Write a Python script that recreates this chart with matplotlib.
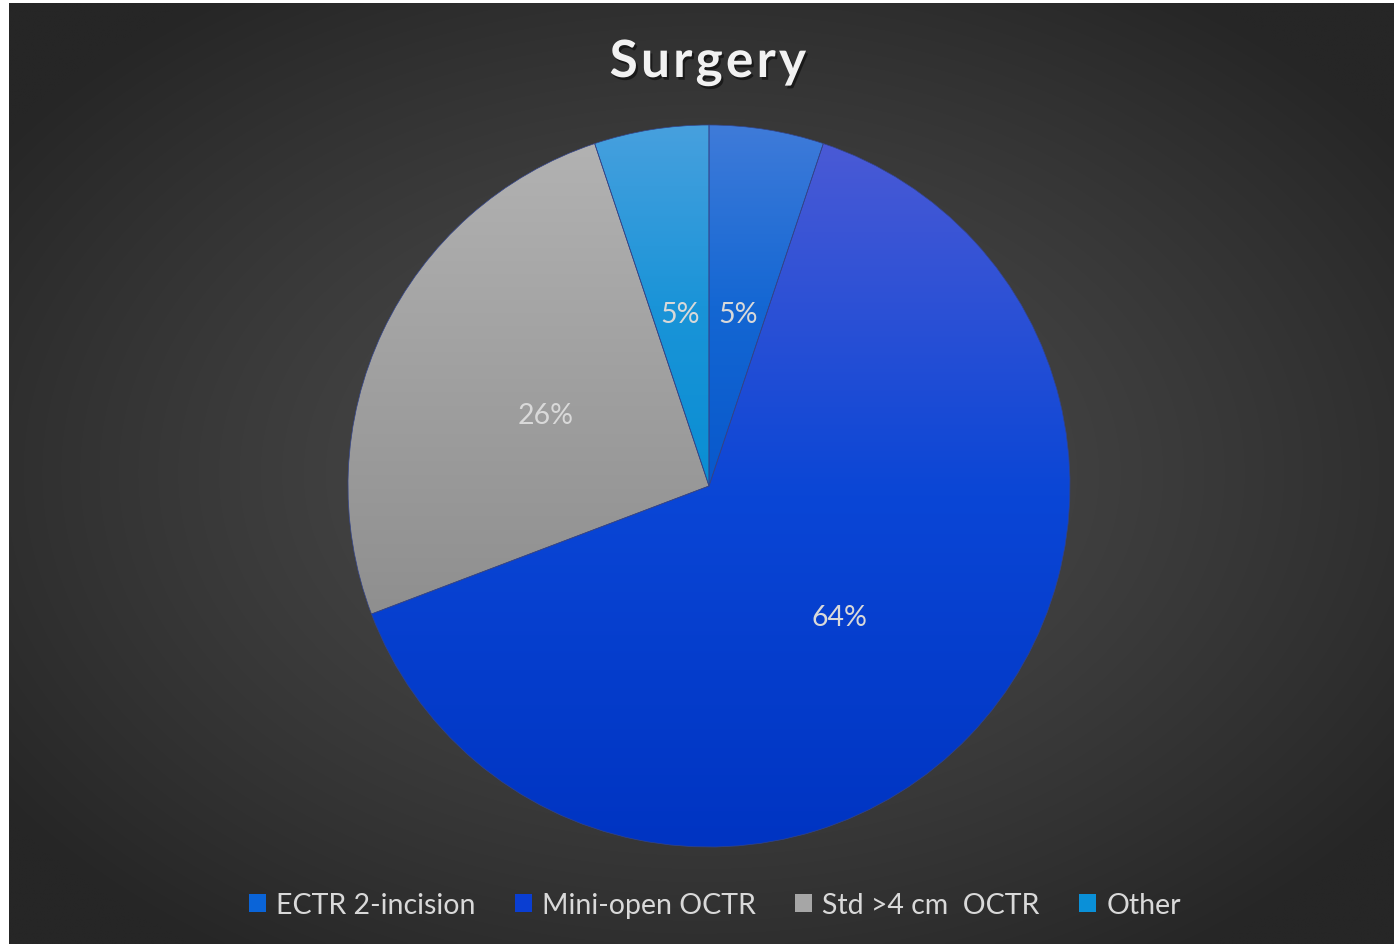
import matplotlib
matplotlib.use("Agg")
import matplotlib.pyplot as plt
import matplotlib.patheffects as pe
from matplotlib.colors import LinearSegmentedColormap
from matplotlib.patches import Patch
import numpy as np

# data (counts)
labels = ['ECTR 2-incision', 'Mini-open OCTR', 'Std >4 cm  OCTR', 'Other']
counts = [2, 25, 10, 2]
top_colors = ['#3f7bd9', '#4a5ad5', '#b2b2b2', '#47a0de']
mid_colors = ['#1467d3', '#0a46d6', '#a0a0a0', '#1a94d8']
bot_colors = ['#0858cc', '#0034c2', '#8f8f8f', '#0a8ed3']
legend_colors = ['#0a64d8', '#0a3ed2', '#a6a6a6', '#0a90d8']

W, H = 1394, 945
fig = plt.figure(figsize=(W / 100, H / 100), dpi=100, facecolor='white')
plt.rcParams['font.family'] = ['Lato', 'DejaVu Sans']

# radial dark background
bg = fig.add_axes([9 / W, 0, 1 - 9 / W, 1 - 4 / H])
yy, xx = np.mgrid[0:1:400j, 0:1:600j]
d = np.sqrt(((xx - 0.5) / 0.62) ** 2 + ((yy - 0.5) / 0.62) ** 2)
d = np.clip(d, 0, 1)
shade = 0x4c / 255 - (0x4c - 0x26) / 255 * d ** 1.3
bg.imshow(np.dstack([shade] * 3), aspect='auto', extent=[0, 1, 0, 1], interpolation='bilinear')
bg.set_axis_off()

# pie axes
cx, cy, R = 709, 487, 361
ax = fig.add_axes([(cx - R) / W, (H - cy - R) / H, 2 * R / W, 2 * R / H])
wedges, texts = ax.pie(counts, startangle=90, counterclock=False, radius=1,
                       labels=[f'{c / sum(counts) * 100:.0f}%' for c in counts],
                       labeldistance=0.5,
                       wedgeprops=dict(linewidth=0.5, edgecolor='#33448a'),
                       textprops=dict(color='#d9d9d9', fontsize=20.5))
ax.set_axis_off()

grad = np.linspace(1, 0, 256).reshape(-1, 1)
for w, t, m, b in zip(wedges, top_colors, mid_colors, bot_colors):
    w.set_facecolor('none')
    ext = w.get_path().get_extents()
    cmap = LinearSegmentedColormap.from_list('g', [b, m, t])
    im = ax.imshow(grad, cmap=cmap, extent=[-1, 1, ext.y0, ext.y1],
                   aspect='auto', interpolation='bilinear', zorder=0.5)
    im.set_clip_path(w)
for t in texts:
    t.set_zorder(5)
    t.set_horizontalalignment('center')
    t.set_verticalalignment('center_baseline')
    x, y = t.get_position()
    t.set_position((x, y - 0.01))
ax.set_xlim(-1, 1)
ax.set_ylim(-1, 1)

fig.text(708 / W, 1 - 64 / H, '\u200a'.join('Surgery'), ha='center', va='center',
         fontsize=37, fontweight='bold', color='#f2f2f2',
         path_effects=[pe.withSimplePatchShadow(offset=(1.5, -2), shadow_rgbFace='black', alpha=0.5)])

handles = [Patch(facecolor=c, edgecolor='none') for c in legend_colors]
fig.legend(handles, labels, loc='center', bbox_to_anchor=(715 / W, 1 - 906 / H), ncol=4,
           frameon=False, fontsize=20.5, labelcolor='#d9d9d9', handlelength=0.6,
           handleheight=0.6, handletextpad=0.35, columnspacing=1.38)

fig.savefig('out.png', dpi=100, facecolor='white')
